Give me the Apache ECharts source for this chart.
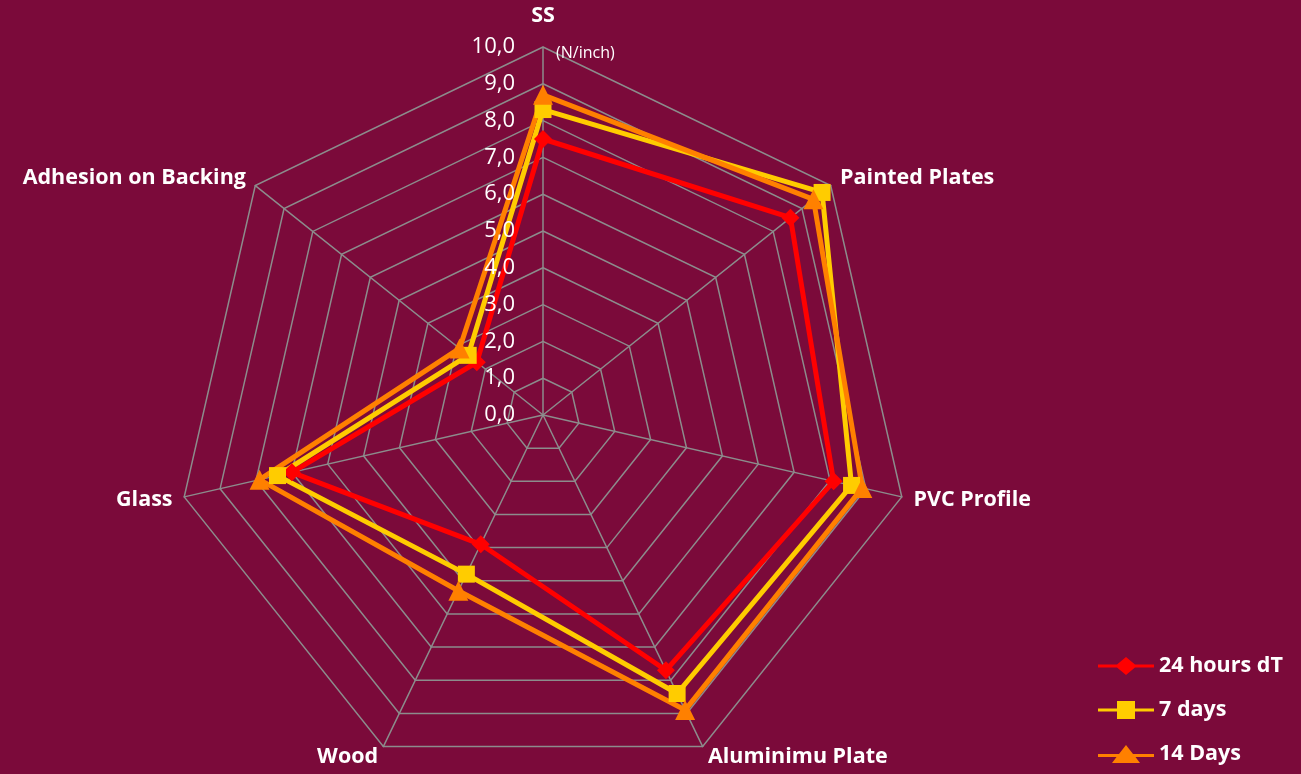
<!DOCTYPE html>
<html><head><meta charset="utf-8">
<script src="https://cdn.jsdelivr.net/npm/echarts@6/dist/echarts.min.js"></script>
<style>html,body{margin:0;padding:0;background:#7B0A3A;}#c{width:1301px;height:774px;}</style>
</head><body><div id="c"></div>
<script>
// Clockwise order starting from the top axis
const categories = ['SS', 'Painted Plates', 'PVC Profile', 'Aluminimu Plate', 'Wood', 'Glass', 'Adhesion on Backing'];
const seriesNames = ['24 hours dT', '7 days', '14 Days'];
const hours24 = [7.5, 8.6, 8.1, 7.7, 3.9, 7.0, 2.3];
const days7 = [8.3, 9.7, 8.6, 8.4, 4.8, 7.4, 2.6];
const days14 = [8.7, 9.4, 8.9, 8.9, 5.3, 7.9, 2.9];
const tickLabels = ['0,0','1,0','2,0','3,0','4,0','5,0','6,0','7,0','8,0','9,0','10,0'];
const unitLabel = '(N/inch)';

// ECharts radar runs counter-clockwise; reorder so the picture runs clockwise
const cw = arr => [arr[0]].concat(arr.slice(1).reverse());

const icons = {
  diamond: 'path://M0,7.5 L19,7.5 L28,0 L37,7.5 L56,7.5 L56,10.5 L37,10.5 L28,18 L19,10.5 L0,10.5 Z',
  rect: 'path://M0,7.5 L19,7.5 L19,0 L37,0 L37,7.5 L56,7.5 L56,10.5 L37,10.5 L37,18 L19,18 L19,10.5 L0,10.5 Z',
  triangle: 'path://M0,9 L21,9 L28,0 L35,9 L56,9 L56,12 L37.5,12 L42,18 L14,18 L18.5,12 L0,12 Z'
};

const chart = echarts.init(document.getElementById('c'));
const font = '"Open Sans", sans-serif';
chart.setOption({
  backgroundColor: '#7B0A3A',
  animation: false,
  textStyle: {fontFamily: font},
  legend: {
    orient: 'vertical', left: 1093, top: 650, itemGap: 22,
    itemWidth: 56, itemHeight: 18,
    textStyle: {color: '#fff', fontSize: 21.5, fontWeight: 'bold', fontFamily: font},
    data: [
      {name: seriesNames[0], icon: icons.diamond},
      {name: seriesNames[1], icon: icons.rect},
      {name: seriesNames[2], icon: icons.triangle}
    ]
  },
  grid: {left: 543, width: 1, top: 47, bottom: 774 - 415, z: 10},
  xAxis: {type: 'value', show: false},
  yAxis: {
    type: 'value', min: 0, max: 10, interval: 1, position: 'left', z: 10,
    axisLine: {show: false}, axisTick: {show: false}, splitLine: {show: false},
    axisLabel: {color: '#fff', fontSize: 22, margin: 28, fontFamily: font,
      formatter: v => tickLabels[Math.round(v)]},
    name: unitLabel, nameLocation: 'end', nameGap: -6,
    nameTextStyle: {color: '#fff', fontSize: 16, align: 'left', verticalAlign: 'middle', padding: [0, 0, 0, 13], fontFamily: font}
  },
  radar: {
    center: [543, 415], radius: 368, startAngle: 90, splitNumber: 10, shape: 'polygon',
    indicator: cw(categories).map(n => ({name: n, min: 0, max: 10})),
    axisName: {
      color: '#fff', fontSize: 21.5, fontWeight: 'bold', fontFamily: font,
      formatter: n => n === 'SS' ? '{ss|SS}' : n,
      rich: {ss: {color: '#fff', fontSize: 21.5, fontWeight: 'bold', fontFamily: font, padding: [0, 0, 8, 0]}}
    },
    nameGap: 12,
    axisLine: {lineStyle: {color: '#8C8C8C', width: 1.5}},
    splitLine: {lineStyle: {color: '#8C8C8C', width: 1.5}},
    splitArea: {show: false},
    axisLabel: {show: false}
  },
  series: [{
    type: 'radar',
    data: [
      {name: seriesNames[0], value: cw(hours24), symbol: 'diamond', symbolSize: 18,
        lineStyle: {color: '#FF0000', width: 5}, itemStyle: {color: '#FF0000'}},
      {name: seriesNames[1], value: cw(days7), symbol: 'rect', symbolSize: 17,
        lineStyle: {color: '#FFCC00', width: 5}, itemStyle: {color: '#FFCC00'}},
      {name: seriesNames[2], value: cw(days14), symbol: 'triangle', symbolSize: 20,
        lineStyle: {color: '#FF8000', width: 5}, itemStyle: {color: '#FF8000'}}
    ]
  }]
});
</script></body></html>
